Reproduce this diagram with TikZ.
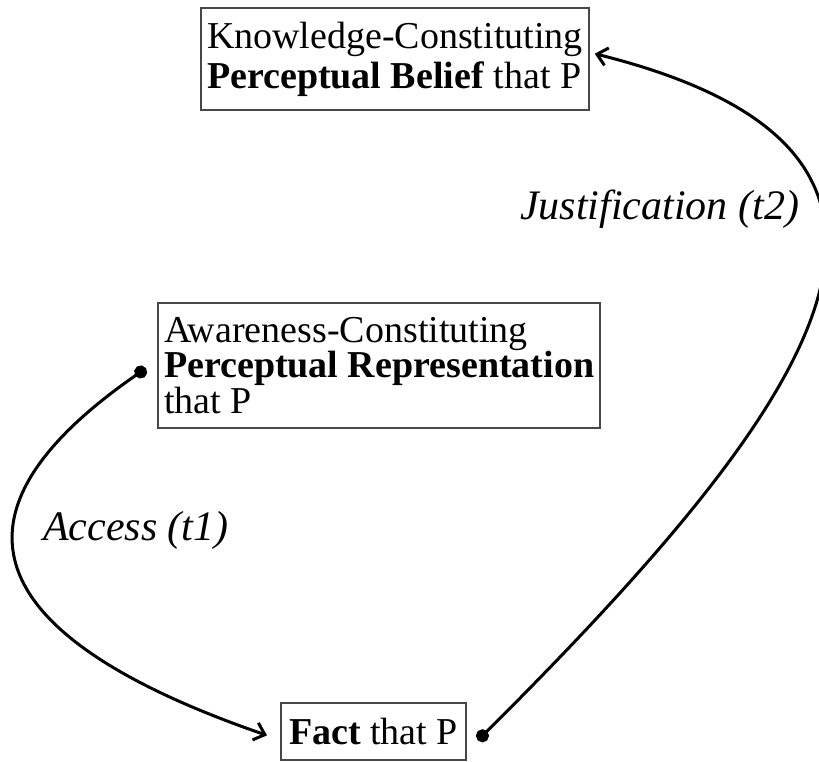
\documentclass[tikz,border=0pt]{standalone}
\usepackage{fontspec}
\setmainfont{Liberation Serif}
\usetikzlibrary{arrows.meta}
\begin{document}
\begin{tikzpicture}[x=1pt,y=-1pt,
  box/.style={draw=black!72, line width=2pt, inner xsep=6pt, inner ysep=14pt, align=left, anchor=north west},
  lbl/.style={font=\fontsize{42}{46}\selectfont\itshape, anchor=base west, inner sep=0pt},
  conn/.style={line width=3pt, {Circle[length=13pt]}-{Straight Barb[length=10pt,width=18pt,line width=3pt]}}
]
\useasboundingbox (0,0) rectangle (819,762);

\node[box, font=\fontsize{38}{40}\selectfont] (belief) at (200,7)
  {Knowledge-Constituting\\\textbf{Perceptual Belief} that P};
\node[box, font=\fontsize{38}{33}\selectfont] (aware) at (157,302)
  {Awareness-Constituting\\\textbf{Perceptual Representation}\\that P};
\node[box, inner xsep=8pt, inner ysep=15pt, font=\fontsize{38}{40}\selectfont] (fact) at (280,702)
  {\textbf{Fact} that P};

\node[lbl] (just) at (520,220) {Justification (t2)};
\node[lbl] (access) at (43,540) {Access (t1)};

\draw[conn] ([xshift=-11pt,yshift=-3pt]aware.west) .. controls (-95,535) and (25,652) .. ([xshift=-13pt,yshift=-4pt]fact.west);
\draw[conn] ([xshift=11pt,yshift=-9pt]fact.east) .. controls (840,380) and (980,150) .. ([xshift=5pt,yshift=5.5pt]belief.east);
\end{tikzpicture}
\end{document}
